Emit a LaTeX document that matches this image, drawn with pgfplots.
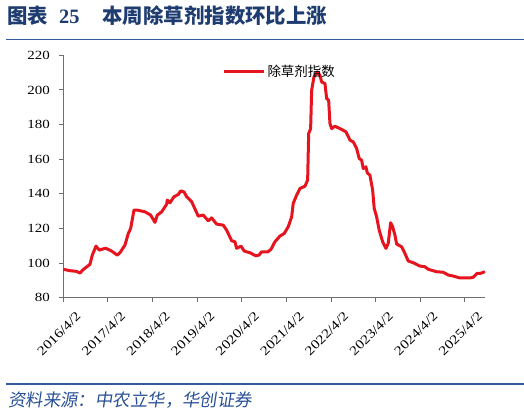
\documentclass[border=0pt]{standalone}
\usepackage{pgfplots}
\pgfplotsset{compat=1.18}
\usepackage{fontspec}
\setmainfont{Liberation Serif}
\newfontfamily\tickfont[FakeStretch=1.2]{Liberation Serif}
\newfontfamily\cjk{Noto Sans CJK SC}
\newfontfamily\cjkit[FakeSlant=0.15]{Noto Sans CJK SC}
\definecolor{titleblue}{RGB}{30,60,112}
\definecolor{ruleblue}{RGB}{50,90,160}
\definecolor{srcblue}{RGB}{40,80,150}
\definecolor{linered}{RGB}{230,20,30}
\definecolor{axgrey}{RGB}{110,110,110}
\begin{document}
\begin{tikzpicture}[x=1bp,y=1bp]
\path[use as bounding box] (0,0) rectangle (524,415);
\node[anchor=west,inner sep=0,text=titleblue,font=\fontsize{20.5}{22}\selectfont] at (7,399) {{\cjk\bfseries 图表}\hspace{11bp}\textbf{25}\hspace{23bp}{\cjk\bfseries 本周除草剂指数环比上涨}};
\draw[ruleblue,line width=1.6bp] (6,375.7) -- (524,375.7);
\draw[ruleblue,line width=1.6bp] (6,31) -- (524,31);
\node[anchor=west,inner sep=0,text=srcblue,font=\fontsize{17.5}{19}\selectfont] at (8,14.5) {\cjkit 资料来源：中农立华，华创证券};
\begin{axis}[
  at={(63.3bp,117.3bp)}, anchor=south west,
  scale only axis, width=421.2bp, height=242.4bp,
  xmin=2016.25, xmax=2025.69, ymin=80, ymax=220,
  axis x line=bottom, axis y line=left,
  axis line style={-, axgrey, line width=0.9bp},
  tick style={axgrey, line width=0.9bp},
  tick align=outside, major tick length=4bp,
  ytick={80,100,...,220},
  xtick={2016.25,2017.25,2018.25,2019.25,2020.25,2021.25,2022.25,2023.25,2024.25,2025.25},
  xticklabels={2016/4/2,2017/4/2,2018/4/2,2019/4/2,2020/4/2,2021/4/2,2022/4/2,2023/4/2,2024/4/2,2025/4/2},
  x tick label style={rotate=45, anchor=north east, inner sep=1bp, xshift=3bp, yshift=-14bp, font=\tickfont\fontsize{13}{14}\selectfont},
  y tick label style={xshift=-6bp, font=\tickfont\fontsize{12.5}{14}\selectfont},
  tick label style={text=black},
  /pgf/number format/assume math mode=true,
  legend style={at={(0.3775,0.932)}, anchor=west, draw=none, fill=none, inner sep=0pt,
    font=\cjk\fontsize{13.5}{15}\selectfont, legend cell align=left},
  legend image code/.code={\draw[#1] (0bp,0bp) -- (40bp,0bp);},
  clip=false,
]
\addplot[linered, line width=3bp, line join=round] coordinates {
(2016.250,96.4)(2016.400,95.6)(2016.550,95.2)(2016.624,94.2)(2016.685,96.0)
(2016.759,97.5)(2016.848,99.3)(2016.900,104.6)(2016.983,109.8)(2017.057,107.5)
(2017.133,108.1)(2017.196,108.6)(2017.258,107.9)(2017.334,106.9)(2017.460,104.6)
(2017.520,106.0)(2017.632,110.4)(2017.706,117.1)(2017.760,120.0)(2017.834,130.6)
(2017.908,130.6)(2018.081,129.6)(2018.208,127.7)(2018.305,123.5)(2018.356,127.7)
(2018.455,129.6)(2018.567,134.0)(2018.580,136.4)(2018.641,134.8)(2018.730,138.3)
(2018.827,139.6)(2018.881,141.7)(2018.955,141.1)(2019.015,138.3)(2019.127,135.4)
(2019.275,127.1)(2019.387,127.7)(2019.499,124.4)(2019.575,126.1)(2019.687,122.5)
(2019.835,121.9)(2019.911,119.0)(2020.023,112.9)(2020.097,112.3)(2020.135,108.5)
(2020.232,109.8)(2020.306,106.9)(2020.433,106.0)(2020.561,104.2)(2020.635,104.6)
(2020.695,106.5)(2020.830,106.4)(2020.904,107.9)(2020.993,112.3)(2021.105,115.6)
(2021.202,117.1)(2021.291,121.0)(2021.368,126.7)(2021.403,134.5)(2021.479,139.2)
(2021.554,143.1)(2021.666,144.4)(2021.726,147.9)(2021.749,174.8)(2021.793,177.7)
(2021.816,199.8)(2021.867,207.5)(2021.941,210.4)(2022.002,208.5)(2022.040,204.6)
(2022.114,203.7)(2022.152,195.0)(2022.197,194.0)(2022.226,180.6)(2022.264,177.7)
(2022.338,179.0)(2022.450,177.7)(2022.585,175.8)(2022.675,171.0)(2022.748,170.0)
(2022.824,166.2)(2022.882,160.4)(2022.936,159.4)(2022.972,154.6)(2023.033,155.6)
(2023.062,152.1)(2023.122,150.8)(2023.183,142.1)(2023.218,131.6)(2023.272,126.7)
(2023.330,119.0)(2023.407,112.3)(2023.481,108.5)(2023.532,111.4)(2023.586,123.3)
(2023.631,121.0)(2023.682,116.2)(2023.720,111.0)(2023.832,109.4)(2023.906,105.6)
(2023.980,101.2)(2024.092,100.2)(2024.242,98.3)(2024.354,97.9)(2024.428,96.4)
(2024.617,95.0)(2024.764,94.7)(2024.877,93.1)(2024.989,92.5)(2025.139,91.4)
(2025.363,91.4)(2025.437,91.8)(2025.527,94.1)(2025.603,94.1)(2025.699,95.0)
};
\addlegendentry{除草剂指数}
\end{axis}
\end{tikzpicture}
\end{document}
